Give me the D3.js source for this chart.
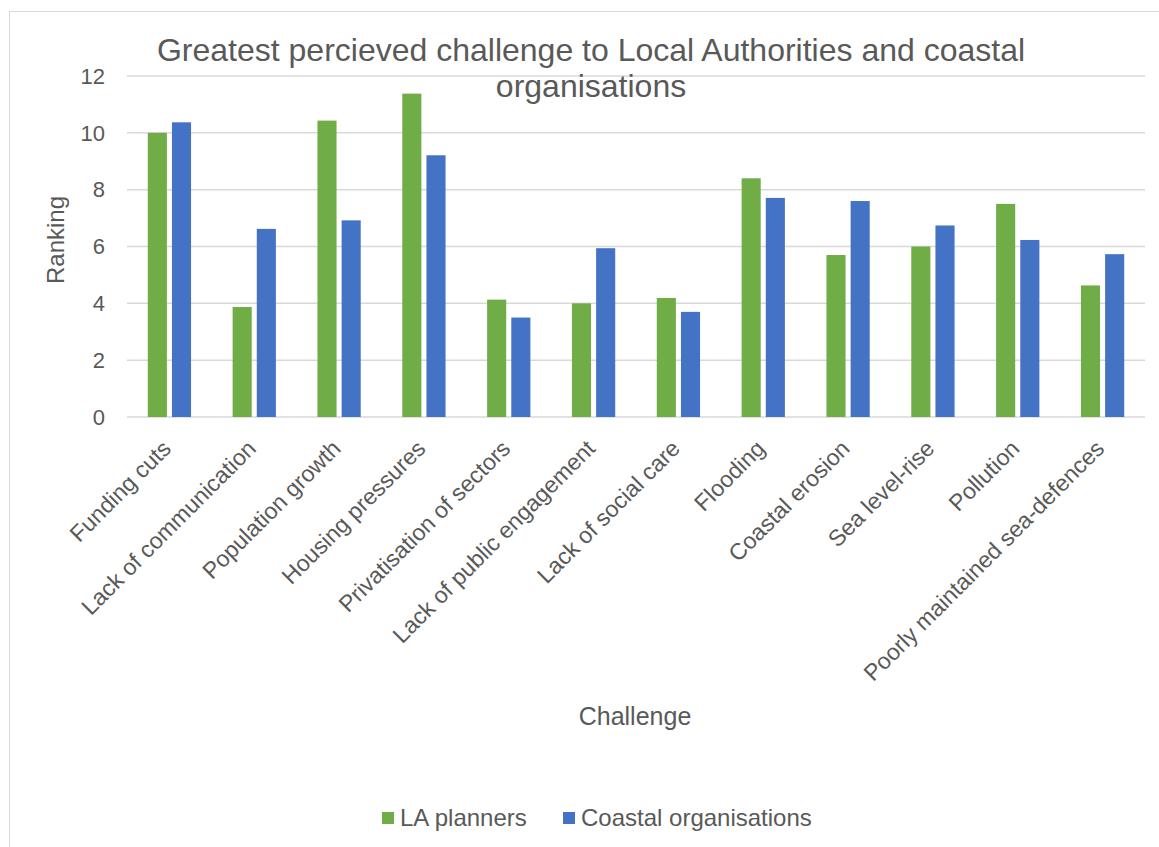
<!DOCTYPE html>
<html>
<head>
<meta charset="utf-8">
<script src="https://cdn.jsdelivr.net/npm/d3@7"></script>
<style>
  html, body { margin: 0; padding: 0; background: #fff; }
  svg { display: block; font-family: "Liberation Sans", Arial, sans-serif; }
</style>
</head>
<body>
<svg id="chart" width="1159" height="847"></svg>
<script>
// Challenge categories and the average ranking given by each group
const categories = [
  "Funding cuts", "Lack of communication", "Population growth", "Housing pressures",
  "Privatisation of sectors", "Lack of public engagement", "Lack of social care",
  "Flooding", "Coastal erosion", "Sea level-rise", "Pollution",
  "Poorly maintained sea-defences"
];
const laPlanners = [10.0, 3.87, 10.43, 11.38, 4.13, 4.0, 4.19, 8.4, 5.7, 6.0, 7.5, 4.63];
const coastalOrgs = [10.37, 6.62, 6.92, 9.21, 3.5, 5.94, 3.7, 7.71, 7.6, 6.74, 6.23, 5.73];
const seriesNames = ["LA planners", "Coastal organisations"];
const seriesColors = ["#70ad47", "#4472c4"];
const yTicks = [0, 2, 4, 6, 8, 10, 12];

const titleLines = ["Greatest percieved challenge to Local Authorities and coastal", "organisations"];
const xTitle = "Challenge";
const yTitle = "Ranking";

const svg = d3.select("#chart");
const textColor = "#595959";
const gridColor = "#d9d9d9";

// chart frame
svg.append("rect")
  .attr("x", 9.5).attr("y", 11.5)
  .attr("width", 1300).attr("height", 1000)
  .attr("fill", "#fff").attr("stroke", gridColor).attr("stroke-width", 1);

const plot = { left: 127, right: 1145, top: 76, bottom: 417 };

const x = d3.scaleBand().domain(categories)
  .range([plot.left, plot.right]).paddingInner(0.49).paddingOuter(0.245);
const xs = d3.scaleBand().domain(seriesNames)
  .range([0, x.bandwidth()]).paddingInner(0.21);
const y = d3.scaleLinear().domain([0, 12]).range([plot.bottom, plot.top]);

// horizontal gridlines
svg.append("g").selectAll("line").data(yTicks).join("line")
  .attr("x1", plot.left).attr("x2", plot.right)
  .attr("y1", d => y(d)).attr("y2", d => y(d))
  .attr("stroke", gridColor).attr("stroke-width", 1.5);

// y tick labels
svg.append("g").selectAll("text").data(yTicks).join("text")
  .attr("x", 105).attr("y", d => y(d)).attr("dy", "0.35em")
  .attr("text-anchor", "end").attr("fill", textColor)
  .attr("font-size", 22).text(d => d);

// bars
const rows = categories.map((c, i) => ({ cat: c, vals: [laPlanners[i], coastalOrgs[i]] }));
const groups = svg.append("g").selectAll("g").data(rows).join("g")
  .attr("transform", d => `translate(${x(d.cat)},0)`);
groups.selectAll("rect")
  .data(d => d.vals.map((v, j) => ({ name: seriesNames[j], v, color: seriesColors[j] })))
  .join("rect")
  .attr("x", d => xs(d.name)).attr("width", xs.bandwidth())
  .attr("y", d => y(d.v)).attr("height", d => y(0) - y(d.v))
  .attr("fill", d => d.color);

// rotated category labels
svg.append("g").selectAll("text").data(categories).join("text")
  .attr("transform", d => `translate(${x(d) + x.bandwidth() / 2 + 3},450) rotate(-45)`)
  .attr("text-anchor", "end").attr("fill", textColor)
  .attr("font-size", 23).text(d => d);

// title
svg.append("text").attr("x", 591).attr("y", 61)
  .attr("text-anchor", "middle").attr("fill", textColor).attr("font-size", 32)
  .selectAll("tspan").data(titleLines).join("tspan")
  .attr("x", 591).attr("dy", (d, i) => i === 0 ? 0 : 36).text(d => d);

// axis titles
svg.append("text").attr("x", 635).attr("y", 725)
  .attr("text-anchor", "middle").attr("fill", textColor).attr("font-size", 25).text(xTitle);
svg.append("text").attr("transform", "translate(64,240) rotate(-90)")
  .attr("text-anchor", "middle").attr("fill", textColor).attr("font-size", 24).text(yTitle);

// legend
const legendX = [382, 563];
const legend = svg.append("g").selectAll("g").data(seriesNames).join("g")
  .attr("transform", (d, i) => `translate(${legendX[i]},812)`);
legend.append("rect").attr("width", 12).attr("height", 12)
  .attr("fill", (d, i) => seriesColors[i]);
legend.append("text").attr("x", 18).attr("y", 14)
  .attr("fill", textColor).attr("font-size", 24).text(d => d);
</script>
</body>
</html>
